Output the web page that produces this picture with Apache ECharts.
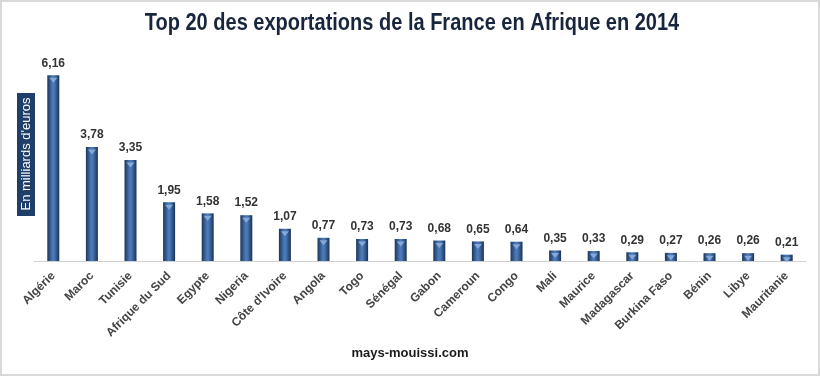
<!DOCTYPE html>
<html>
<head>
<meta charset="utf-8">
<script src="https://cdn.jsdelivr.net/npm/echarts@6/dist/echarts.min.js"></script>
<style>
  html, body { margin: 0; padding: 0; background: #fff; }
  #chart { width: 820px; height: 376px; box-sizing: border-box; border: 2px solid #d9d9d9; }
</style>
</head>
<body>
<div id="chart"></div>
<script>
// === DONNÉES ===
const pays = ['Algérie', 'Maroc', 'Tunisie', 'Afrique du Sud', 'Egypte', 'Nigeria', "Côte d'Ivoire",
    'Angola', 'Togo', 'Sénégal', 'Gabon', 'Cameroun', 'Congo', 'Mali', 'Maurice', 'Madagascar',
    'Burkina Faso', 'Bénin', 'Libye', 'Mauritanie'];
const exportations = [6.16, 3.78, 3.35, 1.95, 1.58, 1.52, 1.07, 0.77, 0.73, 0.73, 0.68, 0.65, 0.64,
    0.35, 0.33, 0.29, 0.27, 0.26, 0.26, 0.21];

const chart = echarts.init(document.getElementById('chart'));

// dégradé horizontal pour l'effet cylindre
const barColor = new echarts.graphic.LinearGradient(0, 0, 1, 0, [
    { offset: 0, color: '#1c355c' },
    { offset: 0.45, color: '#4d7cba' },
    { offset: 0.6, color: '#4574b0' },
    { offset: 1, color: '#1a3256' }
]);

chart.setOption({
    animation: false,
    grid: { left: 32, right: 12, top: 48, bottom: 113 },
    xAxis: {
        type: 'category',
        data: pays,
        axisTick: { show: false },
        axisLine: { lineStyle: { color: '#d0d0d0', width: 1 } },
        axisLabel: {
            rotate: 45,
            interval: 0,
            margin: 13,
            padding: [0, 0, 0, 0],
            color: '#444',
            fontFamily: 'Liberation Sans, Arial, sans-serif',
            fontWeight: 'bold',
            fontSize: 12
        }
    },
    yAxis: {
        type: 'value',
        min: 0,
        max: 7,
        show: false
    },
    series: [
        {
            type: 'bar',
            data: exportations,
            barWidth: 12,
            itemStyle: { color: barColor },
            label: {
                show: true,
                position: 'top',
                distance: 6,
                color: '#333',
                fontFamily: 'Liberation Sans, Arial, sans-serif',
                fontWeight: 'bold',
                fontSize: 12,
                formatter: p => p.value.toFixed(2).replace('.', ',')
            }
        },
        {
            // petit chapeau clair en haut de chaque cylindre
            type: 'pictorialBar',
            data: exportations,
            symbol: 'triangle',
            symbolRotate: 180,
            symbolSize: [8, 5],
            symbolPosition: 'end',
            symbolOffset: [0, '50%'],
            itemStyle: { color: '#86a9d8' },
            z: 3,
            silent: true
        }
    ],
    graphic: [
        {
            type: 'text',
            x: 410,
            y: 22,
            scaleX: 0.87,
            style: {
                text: 'Top 20 des exportations de la France en Afrique en 2014',
                fill: '#17263d',
                font: 'bold 23px Liberation Sans, Arial, sans-serif',
                align: 'center',
                verticalAlign: 'middle'
            }
        },
        {
            type: 'rect',
            left: 15,
            top: 91,
            shape: { width: 18, height: 123 },
            style: { fill: '#1f3e6a' }
        },
        {
            type: 'text',
            x: 24,
            y: 152,
            rotation: Math.PI / 2,
            style: {
                text: "En milliards d'euros",
                fill: '#fff',
                font: '13px Liberation Sans, Arial, sans-serif',
                align: 'center',
                verticalAlign: 'middle'
            }
        },
        {
            type: 'text',
            left: 'center',
            top: 345,
            style: {
                text: 'mays-mouissi.com',
                fill: '#1a1a1a',
                font: 'bold 13px Liberation Sans, Arial, sans-serif'
            }
        }
    ]
});
</script>
</body>
</html>
